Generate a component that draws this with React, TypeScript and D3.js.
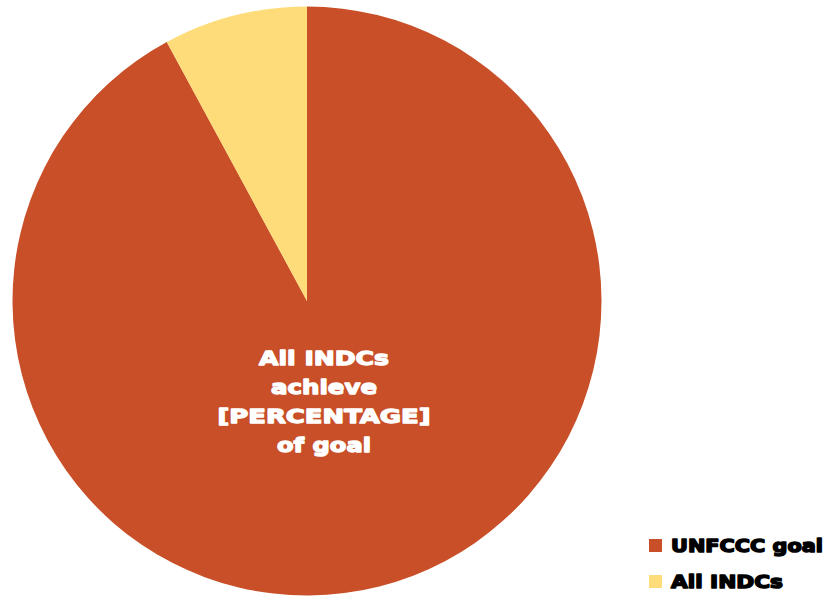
import React from "react";
import * as d3 from "d3";

const categories = ["UNFCCC goal", "All INDCs"];
const values = [92.1, 7.9];
const colors = ["#C84F27", "#FFDC7A"];
const centerLabel = ["All INDCs", "achieve", "[PERCENTAGE]", "of goal"];
const centerWidths = [130, 106, 213, 94];
const legendWidths = [152, 112];

export default function App() {
  const W = 832, H = 597;
  const cx = 307, cy = 301, r = 294.5;
  const pie = d3.pie<number>().sort(null).value((d) => d);
  const arcs = pie(values);
  const arc = d3.arc<d3.PieArcDatum<number>>().innerRadius(0).outerRadius(r);
  const font = "'DejaVu Sans', 'Liberation Sans', Arial, sans-serif";
  return (
    <svg width={W} height={H} style={{ position: "absolute", left: 0, top: 0 }}>
      <g transform={`translate(${cx},${cy})`}>
        {arcs.map((a, i) => (
          <path key={i} d={arc(a) || ""} fill={colors[i]} />
        ))}
      </g>
      {centerLabel.map((t, i) => (
        <text key={i} x={324 - centerWidths[i] / 2} y={365 + i * 29} fill="#fff" fontFamily={font}
          fontWeight={700} fontSize={20} stroke="#fff" strokeWidth={1.3} strokeLinejoin="round"
          textLength={centerWidths[i]} lengthAdjust="spacingAndGlyphs">{t}</text>
      ))}
      {categories.map((c, i) => (
        <g key={c} transform={`translate(649,${539 + i * 36})`}>
          <rect width={13} height={13} fill={colors[i]} />
          <text x={22} y={12.5} fontFamily={font} fontWeight={700} fontSize={18.5} fill="#000"
            stroke="#000" strokeWidth={1.5} strokeLinejoin="round" textLength={legendWidths[i]}
            lengthAdjust="spacingAndGlyphs">{c}</text>
        </g>
      ))}
    </svg>
  );
}
